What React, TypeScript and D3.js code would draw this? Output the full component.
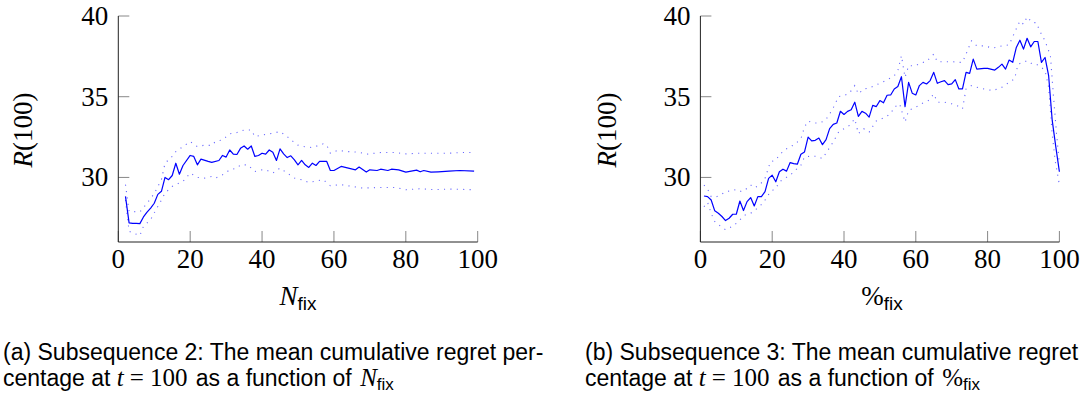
import React, { useRef, useEffect } from 'react';
import * as d3 from 'd3';

type Pt = [number, number];

// shared axes
const xTicks = [0, 20, 40, 60, 80, 100];
const yTicks = [30, 35, 40];
const yDomain: [number, number] = [26, 40];

// (a) subsequence 2, R(100) vs N_fix
const nFixMean: Pt[] = [
  [2, 28.83], [3, 27.18], [4, 27.15], [5, 27.15], [6, 27.14], [7, 27.55], [8, 27.85], [9, 28.1],
  [10, 28.4], [11, 28.95], [12, 29.14], [13, 30.0], [14, 29.86], [15, 30.12], [16, 30.88], [17, 30.2],
  [18, 30.74], [20, 31.36], [21, 31.3], [22, 30.78], [23, 31.13], [25, 30.99], [26, 30.93], [28, 31.05],
  [29, 31.36], [30, 31.26], [31, 31.7], [32, 31.44], [33, 31.42], [34, 31.8], [35, 31.95], [36, 31.75],
  [37, 31.95], [38, 31.3], [39, 31.36], [40, 31.5], [41, 31.44], [42, 31.7], [43, 31.56], [44, 31.05],
  [45, 31.77], [46, 31.46], [47, 31.23], [48, 31.34], [49, 31.09], [50, 30.78], [51, 31.05], [52, 30.78],
  [53, 30.62], [54, 30.88], [55, 30.74], [56, 30.99], [58, 30.99], [59, 30.43], [60, 30.43], [62, 30.68],
  [64, 30.58], [66, 30.47], [67, 30.64], [69, 30.33], [70, 30.47], [72, 30.43], [73, 30.51], [75, 30.43],
  [76, 30.51], [78, 30.47], [80, 30.33], [83, 30.45], [84, 30.35], [85, 30.43], [87, 30.33], [89, 30.35],
  [92, 30.39], [95, 30.43], [99, 30.39],
];
const nFixUpper: Pt[] = [
  [2, 29.55], [3, 27.9], [6, 27.86], [8, 28.4], [10, 29.0], [12, 29.86], [13, 30.88], [15, 31.3],
  [16, 31.6], [18, 31.91], [20, 32.22], [22, 31.91], [24, 32.0], [26, 31.98], [27, 32.22], [29, 32.33],
  [31, 32.7], [33, 32.78], [35, 32.94], [37, 32.94], [38, 32.53], [40, 32.63], [42, 32.7], [43, 32.74],
  [45, 32.84], [47, 32.53], [48, 32.33], [50, 32.0], [52, 31.9], [54, 31.85], [57, 32.08], [58, 32.0],
  [59, 31.5], [61, 31.67], [64, 31.6], [67, 31.56], [69, 31.44], [73, 31.54], [77, 31.54], [80, 31.46],
  [84, 31.5], [88, 31.5], [92, 31.5], [95, 31.54], [99, 31.54],
];
const nFixLower: Pt[] = [
  [2, 28.6], [3, 26.67], [4, 26.56], [6, 26.4], [7, 26.97], [9, 27.39], [10, 27.8], [11, 28.2],
  [12, 28.6], [13, 29.03], [15, 29.44], [16, 29.55], [18, 29.75], [20, 30.27], [22, 30.0], [24, 29.96],
  [26, 30.06], [27, 29.96], [29, 30.16], [31, 30.47], [33, 30.58], [34, 30.78], [36, 30.78], [38, 30.37],
  [40, 30.47], [41, 30.47], [43, 30.27], [45, 30.58], [47, 30.27], [49, 29.96], [51, 29.86], [53, 29.69],
  [57, 29.86], [59, 29.49], [62, 29.55], [65, 29.44], [68, 29.34], [73, 29.38], [77, 29.38], [80, 29.24],
  [84, 29.3], [88, 29.24], [92, 29.28], [99, 29.24],
];

// (b) subsequence 3, R(100) vs %_fix
const pFixMean: Pt[] = [
  [1, 28.85], [2, 28.81], [3, 28.6], [4, 27.93], [5, 27.78], [6, 27.58], [7, 27.33], [8, 27.47],
  [9, 27.72], [10, 27.72], [11, 28.54], [12, 27.95], [13, 28.5], [14, 28.75], [15, 28.23], [16, 28.81],
  [17, 28.81], [18, 29.12], [19, 29.94], [20, 30.14], [21, 29.73], [22, 30.35], [23, 30.51], [24, 30.39],
  [25, 30.92], [26, 30.86], [27, 30.82], [28, 31.44], [29, 31.58], [30, 32.5], [31, 32.26], [32, 32.3],
  [33, 32.44], [34, 32.03], [35, 32.34], [36, 33.02], [37, 33.29], [38, 33.37], [39, 34.1], [40, 33.9],
  [41, 34.09], [42, 34.19], [43, 34.66], [44, 33.78], [45, 34.09], [46, 33.98], [47, 33.74], [48, 34.46],
  [49, 34.39], [50, 34.76], [51, 34.62], [52, 35.09], [53, 35.11], [54, 35.48], [55, 35.63], [56, 36.24],
  [57, 34.39], [58, 35.89], [59, 35.22], [60, 35.11], [61, 35.69], [62, 35.89], [63, 35.79], [64, 36.0],
  [65, 36.51], [66, 35.83], [67, 35.93], [68, 36.0], [69, 35.75], [70, 35.79], [71, 36.06], [72, 35.48],
  [73, 35.48], [74, 36.51], [75, 36.45], [76, 37.33], [77, 36.71], [79, 36.76], [80, 36.76], [82, 36.65],
  [83, 36.82], [84, 37.02], [85, 36.71], [86, 37.27], [87, 37.13], [88, 38.05], [89, 38.5], [90, 37.95],
  [91, 38.62], [92, 38.09], [93, 38.42], [94, 38.42], [95, 37.13], [96, 37.43], [97, 36.3], [98, 33.53],
  [99, 31.89], [100, 30.35],
];
const pFixUpper: Pt[] = [
  [1, 29.53], [2, 29.28], [3, 28.81], [4.5, 28.81], [6, 28.97], [7, 29.12], [9, 29.18], [10, 29.26],
  [11.5, 29.12], [13, 29.32], [14, 29.53], [15, 29.36], [16.5, 29.53], [18, 29.94], [19.5, 30.97], [21, 31.07],
  [22, 31.38], [23.5, 31.72], [25, 31.89], [26.5, 32.09], [28, 32.4], [29, 33.12], [30, 33.49], [31.5, 33.37],
  [33, 33.37], [34.5, 33.49], [35.5, 33.74], [37, 34.31], [38.5, 35.01], [40, 35.07], [41.5, 35.22], [43, 35.69],
  [44, 35.17], [45.5, 35.48], [47, 35.54], [48.5, 35.69], [50, 35.83], [52, 36.04], [54, 36.3], [55, 36.61],
  [56, 37.54], [57, 36.2], [58, 36.92], [60, 36.92], [61, 37.06], [63, 37.19], [65, 37.64], [66, 37.17],
  [68, 37.17], [70, 37.17], [72, 37.13], [73, 37.13], [74, 37.64], [75.5, 38.46], [77, 38.15], [79, 38.15],
  [81.5, 38.01], [84, 38.15], [86, 38.21], [87.5, 38.97], [89, 39.69], [90, 39.49], [91, 39.94], [92.5, 39.59],
  [93.5, 39.59], [95, 38.87], [96, 38.46], [97.5, 37.54], [98.3, 35.17], [99.2, 32.71], [100, 30.86],
];
const pFixLower: Pt[] = [
  [1, 28.19], [2, 28.46], [3, 27.78], [4, 27.27], [5.5, 27.0], [7, 26.76], [8, 26.86], [9.5, 27.06],
  [11, 27.37], [12.5, 27.68], [14, 27.78], [15, 27.95], [16.5, 28.19], [18, 28.6], [19.5, 29.12], [21, 29.32],
  [22, 29.73], [23.5, 29.94], [25, 30.14], [26.5, 30.45], [28, 30.76], [29, 31.27], [30.5, 31.31], [32.5, 31.31],
  [34, 31.17], [35.5, 31.68], [37, 32.2], [38.5, 32.81], [40, 33.02], [41.5, 33.22], [43, 33.63], [44, 32.71],
  [45.5, 33.02], [47, 32.81], [49, 33.5], [51, 33.68], [53, 33.94], [54, 34.35], [55.5, 34.56], [57, 33.43],
  [58, 34.15], [60, 34.35], [61.5, 34.56], [63.5, 34.76], [65, 35.17], [66, 34.66], [68, 34.66], [70, 34.56],
  [71.5, 34.45], [73, 34.25], [74, 35.48], [75.5, 35.69], [77, 35.59], [79, 35.48], [81.5, 35.38], [84, 35.59],
  [86, 35.89], [87.5, 36.1], [88.5, 37.02], [90, 37.13], [91, 37.23], [92.5, 37.02], [93.5, 37.02], [95, 36.82],
  [96, 36.61], [97, 35.59], [98, 32.71], [98.8, 31.07], [100, 29.53],
];

const SERIF = '"Liberation Serif", "DejaVu Serif", serif';
const SANS = '"Liberation Sans", "DejaVu Sans", sans-serif';

type PanelOpts = {
  x0: number; x1: number; yLabelX: number;
  mean: Pt[]; upper: Pt[]; lower: Pt[];
  xSym: string; xSymItalic: boolean; xLabelX: number;
};

function drawPanel(svg: d3.Selection<SVGSVGElement, unknown, null, undefined>, o: PanelOpts) {
  const top = 16, bottom = 242;
  const x = d3.scaleLinear().domain([0, 100]).range([o.x0, o.x1]);
  const y = d3.scaleLinear().domain(yDomain).range([bottom, top]);
  const g = svg.append('g');
  const tickLen = 11;

  // ticks (inward, grey)
  g.selectAll('.xt').data(xTicks).join('line')
    .attr('x1', d => x(d)).attr('x2', d => x(d))
    .attr('y1', bottom).attr('y2', bottom - tickLen)
    .attr('stroke', '#888').attr('stroke-width', 1);
  g.selectAll('.yt').data(yTicks).join('line')
    .attr('x1', o.x0).attr('x2', o.x0 + tickLen)
    .attr('y1', d => y(d)).attr('y2', d => y(d))
    .attr('stroke', '#888').attr('stroke-width', 1);

  // axis lines
  g.append('path')
    .attr('d', `M${o.x0},${top}V${bottom}H${o.x1}`)
    .attr('fill', 'none').attr('stroke', '#222').attr('stroke-width', 1);

  // tick labels
  g.selectAll('.xl').data(xTicks).join('text')
    .attr('x', d => x(d)).attr('y', bottom + 26)
    .attr('text-anchor', 'middle')
    .style('font-family', SERIF).style('font-size', '27px')
    .text(d => d);
  g.selectAll('.yl').data(yTicks).join('text')
    .attr('x', o.x0 - 10).attr('y', d => y(d) + 9)
    .attr('text-anchor', 'end')
    .style('font-family', SERIF).style('font-size', '27px')
    .text(d => d);

  // y label
  const yl = g.append('text')
    .attr('transform', `translate(${o.yLabelX},130) rotate(-90)`)
    .attr('text-anchor', 'middle')
    .style('font-family', SERIF).style('font-size', '27px');
  yl.append('tspan').style('font-style', 'italic').text('R');
  yl.append('tspan').text('(100)');

  // x label
  const xl = g.append('text')
    .attr('x', o.xLabelX).attr('y', 305)
    .attr('text-anchor', 'middle')
    .style('font-family', SERIF).style('font-size', '27px');
  xl.append('tspan').style('font-style', o.xSymItalic ? 'italic' : 'normal').text(o.xSym);
  xl.append('tspan').attr('dy', 5).style('font-family', SANS).style('font-size', '19px').text('fix');

  const line = d3.line<Pt>().x(d => x(d[0])).y(d => y(d[1]));

  [o.upper, o.lower].forEach(b => {
    g.append('path').datum(b)
      .attr('d', line)
      .attr('fill', 'none').attr('stroke', '#3333ff').attr('stroke-opacity', 0.75)
      .attr('stroke-width', 1.1).attr('stroke-dasharray', '1.1 5.3');
  });
  g.append('path').datum(o.mean)
    .attr('d', line)
    .attr('fill', 'none').attr('stroke', '#0000ff')
    .attr('stroke-width', 1.2).attr('stroke-linejoin', 'round');
}

function drawCaption(svg: d3.Selection<SVGSVGElement, unknown, null, undefined>, x0: number, first: string, sym: string, symItalic: boolean) {
  const fs = '23px';
  svg.append('text')
    .attr('x', x0).attr('y', 360)
    .style('font-family', SANS).style('font-size', fs)
    .text(first);
  const t = svg.append('text')
    .attr('x', x0).attr('y', 386)
    .style('font-family', SANS).style('font-size', fs);
  t.append('tspan').text('centage at ');
  t.append('tspan').style('font-family', SERIF).style('font-style', 'italic').style('font-size', '25px').text('t');
  t.append('tspan').attr('dx', 6).style('font-family', SERIF).style('font-size', '25px').text('=');
  t.append('tspan').attr('dx', 6).style('font-family', SERIF).style('font-size', '25px').text('100');
  t.append('tspan').attr('dx', 2).text(' as a function of ');
  t.append('tspan').attr('dx', 2).style('font-family', SERIF).style('font-style', symItalic ? 'italic' : 'normal').style('font-size', '25px').text(sym);
  t.append('tspan').attr('dy', 4).style('font-size', '17px').text('fix');
}

const App = () => {
  const svgRef = useRef<SVGSVGElement>(null);

  useEffect(() => {
    const svg = d3.select(svgRef.current!);
    svg.selectAll('*').remove();

    drawPanel(svg, {
      x0: 118.3, x1: 477.7, yLabelX: 32,
      mean: nFixMean, upper: nFixUpper, lower: nFixLower,
      xSym: 'N', xSymItalic: true, xLabelX: 298,
    });
    drawPanel(svg, {
      x0: 700.4, x1: 1059.4, yLabelX: 616,
      mean: pFixMean, upper: pFixUpper, lower: pFixLower,
      xSym: '%', xSymItalic: false, xLabelX: 882,
    });

    drawCaption(svg, 3, '(a) Subsequence 2: The mean cumulative regret per-', 'N', true);
    drawCaption(svg, 585, '(b) Subsequence 3: The mean cumulative regret', '%', false);
  }, []);

  return (
    <svg ref={svgRef} width={1084} height={401}
      style={{ position: 'absolute', left: 0, top: 0, background: '#fff' }} />
  );
};

export default App;
